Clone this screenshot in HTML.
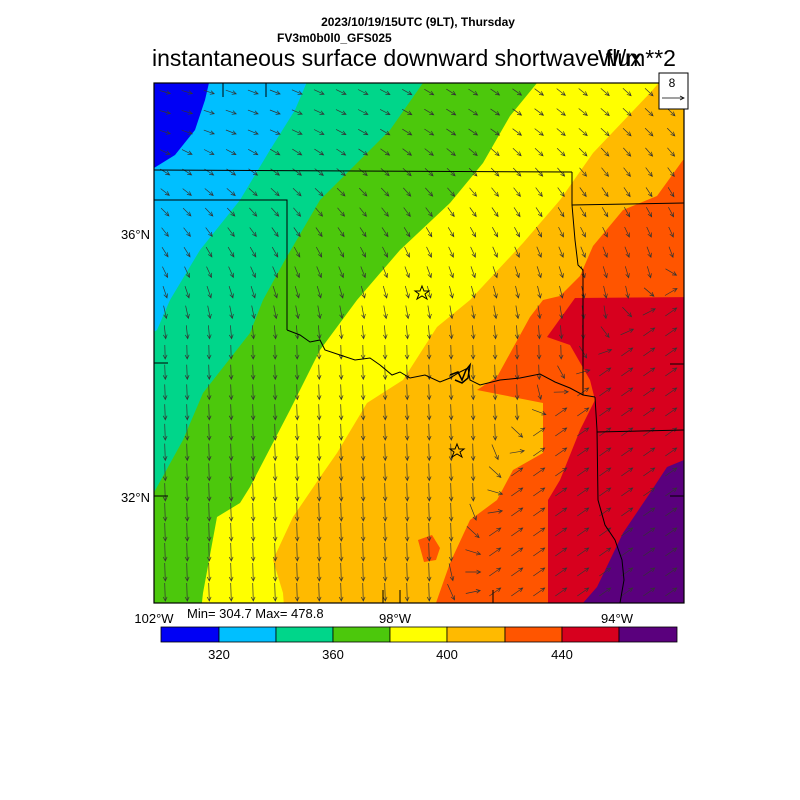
<!DOCTYPE html>
<html><head><meta charset="utf-8"><style>
body{margin:0;background:#fff;width:800px;height:800px;overflow:hidden;font-family:"Liberation Sans",sans-serif}
svg{position:absolute;left:0;top:0}
</style></head><body>
<svg id="s" width="800" height="800" viewBox="0 0 800 800" xmlns="http://www.w3.org/2000/svg">
<defs><clipPath id="c"><rect x="154" y="83" width="530" height="520"/></clipPath></defs>
<g clip-path="url(#c)">
<rect x="154" y="83" width="530" height="520" fill="#D7001E"/>
<polygon fill="#5A007D" points="700,455 684,460 667,467 650,493 623,533 597,587 583,603 583,620 700,620"/>
<polygon fill="#FF5500" points="140,70 700,70 700,297 575,298 547,337 570,345 590,380 595,400 580,430 560,480 548,500 548,620 140,620"/>
<polygon fill="#FFBA00" points="140,70 700,70 700,160 683,160 657,196 623,210 593,246 580,276 560,296 543,300 530,317 497,377 477,390 543,403 543,453 513,470 497,500 470,520 450,563 430,620 140,620"/>
<polygon fill="#FF5500" points="418,540 432,535 440,548 436,560 424,562"/>
<polygon fill="#FFFF00" points="140,70 670,70 650,93 593,153 560,200 523,243 470,300 437,327 403,380 367,403 337,453 323,473 293,517 273,560 283,593 285,620 140,620"/>
<polygon fill="#4CC80C" points="140,70 545,70 537,83 510,116 483,163 450,203 400,250 357,300 320,350 290,410 250,487 240,503 217,517 203,593 200,620 140,620"/>
<polygon fill="#00D68A" points="140,70 432,70 390,130 320,200 285,260 263,300 250,333 203,393 183,440 157,487 150,500 140,500"/>
<polygon fill="#00BFFF" points="140,70 312,70 295,110 270,150 240,200 200,250 170,300 157,330 140,340"/>
<polygon fill="#0000F5" points="140,70 212,70 205,100 195,130 175,155 154,168 140,170"/>
<g id="arr" stroke="#333" stroke-width="0.7" fill="none"></g>
<g stroke="#000" stroke-width="1" fill="none">
<polyline points="154,170 572,172"/>
<polyline points="154,200 287,200 287,330"/>
<polyline points="572,172 572,205 684,203"/>
<polyline points="572,205 575,240 578,265 583,270 583,395"/>
<polyline points="287,330 300,335 310,342 320,340 325,350 340,355 355,360 370,358 380,365 392,375 400,372 410,378 425,375 440,382 450,378 460,372 468,368 470,380 480,385 500,380 520,378 540,374 555,382 570,388 583,395 595,397"/>
<polyline points="595,397 597,430 598,500 605,525 615,540 622,560 624,580 620,603"/>
<polyline points="597,432 684,430"/>
<polyline points="154,363 168,363"/><polyline points="154,496 168,496"/>
<polyline points="670,364 684,364"/><polyline points="670,496 684,496"/>
<polyline points="223,83 223,97"/><polyline points="266,83 266,97"/>
<polyline points="400,603 400,590"/><polyline points="383,603 383,590"/><polyline points="493,603 493,590"/>
</g>
<g stroke="#000" stroke-width="1.5" fill="none"><polyline points="450,375 458,372 462,380 466,370 470,365 468,378 462,383 455,380"/></g>
</g>
<rect x="154" y="83" width="530" height="520" fill="none" stroke="#000" stroke-width="1.2"/>
<g fill="none" stroke="#000" stroke-width="1">
<polygon points="422,286 424,291 429,291 425,294 427,299 422,296 417,299 419,294 415,291 420,291"/>
<polygon points="457,444 459,449 464,449 460,452 462,457 457,454 452,457 454,452 450,449 455,449"/>
</g>
<rect x="659" y="73" width="29" height="36" fill="#fff" stroke="#000" stroke-width="1"/>
<text x="672" y="87" font-size="12" text-anchor="middle">8</text>
<line x1="662" y1="98" x2="684" y2="98" stroke="#000" stroke-width="0.8"/>
<polyline points="680,96 684,98 680,100" fill="none" stroke="#000" stroke-width="0.8"/>
<text x="418" y="26" font-size="12" font-weight="bold" text-anchor="middle">2023/10/19/15UTC (9LT), Thursday</text>
<text x="277" y="42" font-size="12" font-weight="bold">FV3m0b0l0_GFS025</text>
<text x="152" y="66" font-size="23">instantaneous surface downward shortwave flux</text>
<text x="598" y="66" font-size="23">W/m**2</text>
<text x="150" y="239" font-size="13" text-anchor="end">36°N</text>
<text x="150" y="502" font-size="13" text-anchor="end">32°N</text>
<text x="154" y="623" font-size="13" text-anchor="middle">102°W</text>
<text x="395" y="623" font-size="13" text-anchor="middle">98°W</text>
<text x="617" y="623" font-size="13" text-anchor="middle">94°W</text>
<text x="187" y="618" font-size="13">Min= 304.7 Max= 478.8</text>
<g stroke="#000" stroke-width="0.8">
<rect x="161" y="627" width="58" height="15" fill="#0000F5"/>
<rect x="219" y="627" width="57" height="15" fill="#00BFFF"/>
<rect x="276" y="627" width="57" height="15" fill="#00D68A"/>
<rect x="333" y="627" width="57" height="15" fill="#4CC80C"/>
<rect x="390" y="627" width="57" height="15" fill="#FFFF00"/>
<rect x="447" y="627" width="58" height="15" fill="#FFBA00"/>
<rect x="505" y="627" width="57" height="15" fill="#FF5500"/>
<rect x="562" y="627" width="57" height="15" fill="#D7001E"/>
<rect x="619" y="627" width="58" height="15" fill="#5A007D"/>
</g>
<g font-size="13" text-anchor="middle">
<text x="219" y="659">320</text><text x="333" y="659">360</text><text x="447" y="659">400</text><text x="562" y="659">440</text>
</g>
</svg>
<script>
(function(){
var g=document.getElementById('arr'),h='';
function cl(v){return v<0?0:v>1?1:v}
function xb(y){var P=[[200,720],[280,650],[380,545],[450,490],[560,450],[620,440]];
 if(y<=P[0][0])return P[0][1];
 for(var i=1;i<P.length;i++){if(y<=P[i][0]){var t=(y-P[i-1][0])/(P[i][0]-P[i-1][0]);return P[i-1][1]+t*(P[i][1]-P[i-1][1]);}}
 return P[P.length-1][1];}
for(var y=92;y<603;y+=20){for(var x=165;x<684;x+=22){
var nx=(x-154)/530,ny=(y-83)/520;
var tp=15+30*nx;
var base=tp+(88-tp)*cl((ny-0.08)/0.42);
var w=cl((x-xb(y))/35);
var a=(base*(1-w)-35*w)*Math.PI/180;
var L=11+7*cl((ny-0.3)*2)*(1-w)+3*w;
var dx=Math.cos(a)*L,dy=Math.sin(a)*L;
var x1=x-dx/2,y1=y-dy/2,x2=x+dx/2,y2=y+dy/2;
var ha=0.45,hl=4.5;
var p1x=x2-hl*Math.cos(a-ha),p1y=y2-hl*Math.sin(a-ha),p2x=x2-hl*Math.cos(a+ha),p2y=y2-hl*Math.sin(a+ha);
h+='<path d="M'+x1.toFixed(1)+' '+y1.toFixed(1)+'L'+x2.toFixed(1)+' '+y2.toFixed(1)+'M'+p1x.toFixed(1)+' '+p1y.toFixed(1)+'L'+x2.toFixed(1)+' '+y2.toFixed(1)+'L'+p2x.toFixed(1)+' '+p2y.toFixed(1)+'"/>';
}}
g.innerHTML=h;
})();
</script>
</body></html>
